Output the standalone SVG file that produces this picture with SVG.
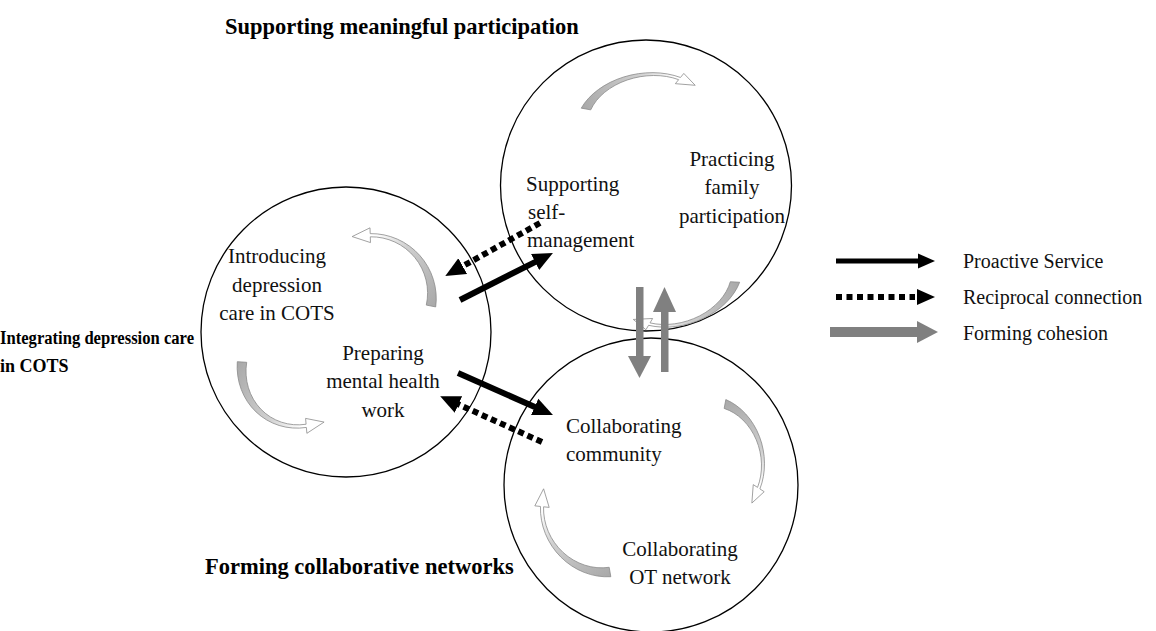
<svg xmlns="http://www.w3.org/2000/svg" xmlns:xlink="http://www.w3.org/1999/xlink" width="1156" height="631" viewBox="0 0 1156 631">
<style>
.ring{fill:none;stroke:#000;stroke-width:1.3}
.t{font-family:"Liberation Serif","Times New Roman",serif;font-size:21px;fill:#111}
.tm{text-anchor:middle}
.b{font-family:"Liberation Serif","Times New Roman",serif;font-size:22.5px;font-weight:bold;fill:#000}
.bl{font-family:"Liberation Serif","Times New Roman",serif;font-size:18px;font-weight:bold;fill:#000}
.lg{font-family:"Liberation Serif","Times New Roman",serif;font-size:20px;fill:#111}
.solid{stroke:#000;stroke-width:6;fill:none}
.dot{stroke:#000;stroke-width:6;stroke-dasharray:6 4;fill:none}
.gray{fill:#808080}
.carrow{fill:url(#cg);stroke:#8a8a8a;stroke-width:0.8}
</style>
<defs>
<linearGradient id="cg" x1="0" y1="0" x2="1" y2="0">
<stop offset="0" stop-color="#a8a8a8"/>
<stop offset="0.55" stop-color="#d0d0d0"/>
<stop offset="0.85" stop-color="#ffffff"/>
</linearGradient>
<marker id="ah" markerUnits="userSpaceOnUse" markerWidth="22" markerHeight="20" viewBox="0 -10 22 20" refX="2" refY="0" orient="auto">
<path d="M0,-9 L20,0 L0,9 Z" fill="#000"/>
</marker>
<path id="ca" class="carrow" vector-effect="non-scaling-stroke" d="M-4,-2.1 A61,61 0 0 1 87.39,-17.89 L90.93,-22.1 L99,-5 L81.93,-11.38 L85.46,-15.59 A53,53 0 0 0 4,2.1 Z"/>
</defs>

<g id="circle-integrating">
<circle class="ring" cx="346" cy="332" r="145"/>
<use href="#ca" transform="translate(431,306) rotate(-141.5) scale(1.06,-1.05)"/>
<use href="#ca" transform="translate(242,362) rotate(33.1) scale(1.026,-1.1)"/>
<text class="t tm" x="277" y="263">Introducing</text>
<text class="t tm" x="277" y="292">depression</text>
<text class="t tm" x="277" y="320">care in COTS</text>
<text class="t tm" x="383" y="360">Preparing</text>
<text class="t tm" x="383" y="388">mental health</text>
<text class="t tm" x="383" y="417">work</text>
</g>

<g id="circle-supporting">
<circle class="ring" cx="646" cy="185.5" r="145.5"/>
<use href="#ca" transform="translate(586,109) rotate(-10.2) scale(1.128,0.8)"/>
<use href="#ca" transform="translate(735,282) rotate(161.9) scale(1.094,0.8)"/>
<text class="t" x="526" y="191">Supporting</text>
<text class="t" x="528" y="219">self-</text>
<text class="t" x="527" y="247">management</text>
<text class="t tm" x="732" y="166">Practicing</text>
<text class="t tm" x="732" y="194">family</text>
<text class="t tm" x="732" y="223">participation</text>
</g>

<g id="circle-forming">
<circle class="ring" cx="651" cy="485" r="147"/>
<use href="#ca" transform="translate(725,404) rotate(77.2) scale(1.036,0.85)"/>
<use href="#ca" transform="translate(610,572) rotate(-125.9) scale(1.074,1.0)"/>
<text class="t" x="566" y="433">Collaborating</text>
<text class="t" x="566" y="461">community</text>
<text class="t tm" x="680" y="556">Collaborating</text>
<text class="t tm" x="680" y="584">OT network</text>
</g>

<g id="titles">
<text class="b" x="225" y="34">Supporting meaningful participation</text>
<text class="bl" x="0" y="344" textLength="194" lengthAdjust="spacingAndGlyphs">Integrating depression care</text>
<text class="bl" x="0" y="372">in COTS</text>
<text class="b" x="205" y="574">Forming collaborative networks</text>
</g>

<g id="connectors">
<line class="solid" x1="460" y1="300" x2="536.9" y2="261.1" marker-end="url(#ah)"/>
<line class="solid" x1="458" y1="373" x2="536.5" y2="407.7" marker-end="url(#ah)"/>
<line class="dot" x1="540" y1="223" x2="461" y2="267.2" marker-end="url(#ah)"/>
<line class="dot" x1="542" y1="442" x2="456.6" y2="403.6" marker-end="url(#ah)"/>
<rect class="gray" x="636" y="287" width="7.5" height="70"/>
<polygon class="gray" points="628,356 651,356 639.5,378"/>
<rect class="gray" x="661" y="311" width="7.5" height="61"/>
<polygon class="gray" points="653,312 676,312 664.5,287"/>
</g>

<g id="legend">
<line x1="836" y1="261" x2="919" y2="261" stroke="#000" stroke-width="5"/>
<polygon points="918,253.5 935,261 918,268.5" fill="#000"/>
<line x1="836" y1="297" x2="915" y2="297" stroke="#000" stroke-width="6" stroke-dasharray="6 4.5"/>
<polygon points="917,289 935,297 917,305" fill="#000"/>
<rect class="gray" x="830" y="327" width="88" height="10"/>
<polygon class="gray" points="917,321 938,332 917,343"/>
<text class="lg" x="963" y="268">Proactive Service</text>
<text class="lg" x="963" y="304">Reciprocal connection</text>
<text class="lg" x="963" y="340">Forming cohesion</text>
</g>
</svg>
